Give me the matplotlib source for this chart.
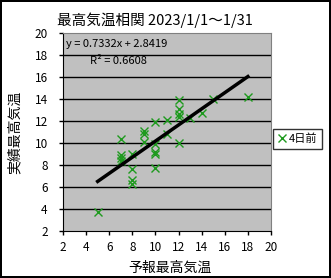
import matplotlib.pyplot as plt
import numpy as np

plt.rcParams['font.family'] = ['Noto Sans CJK JP', 'DejaVu Sans']

# 予報最高気温 / 実績最高気温 (4日前予報)
forecast = [5, 7, 7, 7, 7, 8, 8, 8, 8, 9, 9, 9, 10, 10, 10, 10, 10,
            11, 11, 12, 12, 12, 12, 12, 13, 14, 15, 18]
actual = [3.7, 10.4, 8.9, 8.6, 8.4, 9.0, 7.6, 6.6, 6.3, 11.1, 10.8, 10.1,
          11.9, 9.9, 9.2, 9.0, 7.7, 12.1, 10.8, 13.9, 13.1, 12.6, 12.4,
          10.0, 12.3, 12.7, 14.0, 14.2]
slope = 0.7332
intercept = 2.8419
r2 = 0.6608
x_ticks = [2, 4, 6, 8, 10, 12, 14, 16, 18, 20]
y_ticks = [2, 4, 6, 8, 10, 12, 14, 16, 18, 20]

fig = plt.figure(figsize=(3.31, 2.78), dpi=100, facecolor='white',
                 edgecolor='black', linewidth=1.5)
ax = fig.add_axes([63/331, 1 - 231/278, 208/331, 198/278])
ax.set_facecolor('#c0c0c0')

# 横グリッド
for yv in y_ticks[1:-1]:
    ax.axhline(yv, color='black', linewidth=1, zorder=1)

ax.plot(forecast, actual, linestyle='none', marker='x', color='#1e9a1e',
        markersize=6, markeredgewidth=1, label='4日前', zorder=3)

# 近似直線
xl = np.array([min(forecast), max(forecast)])
ax.plot(xl, slope * xl + intercept, color='black', linewidth=2.5, zorder=4)

ax.set_xlim(2, 20)
ax.set_ylim(2, 20)
ax.set_xticks(x_ticks)
ax.set_yticks(y_ticks)
ax.tick_params(axis='both', direction='out', length=3, width=1, labelsize=8.5)
ax.tick_params(axis='x', pad=4.5)
ax.tick_params(axis='y', pad=8)
ax.spines['left'].set_color('black')
ax.spines['bottom'].set_color('black')
ax.spines['top'].set_color('#808080')
ax.spines['right'].set_color('#808080')

ax.text(2.25, 19.0, f'y = {slope}x + {intercept}', fontsize=8, va='center',
        ha='left', zorder=5)
ax.text(4.3, 17.45, f'R² = {r2}', fontsize=8, va='center', ha='left', zorder=5)

fig.text(155/331, 1 - 20/278, '最高気温相関 2023/1/1～1/31', fontsize=10.5,
         ha='center', va='center')
fig.text(170/331, 1 - 268/278, '予報最高気温', fontsize=10, ha='center',
         va='center')
fig.text(15/331, 1 - 132/278, '実績最高気温', fontsize=10, ha='center',
         va='center', rotation=90)

leg = ax.legend(loc='center left', bbox_to_anchor=(273/331, 1 - 139/278),
                bbox_transform=fig.transFigure, fontsize=8, frameon=True,
                fancybox=False, edgecolor='black', handlelength=0.8,
                handletextpad=0.2, borderpad=0.4, borderaxespad=0)
leg.get_frame().set_linewidth(1)

fig.savefig('out.png', dpi=100)
